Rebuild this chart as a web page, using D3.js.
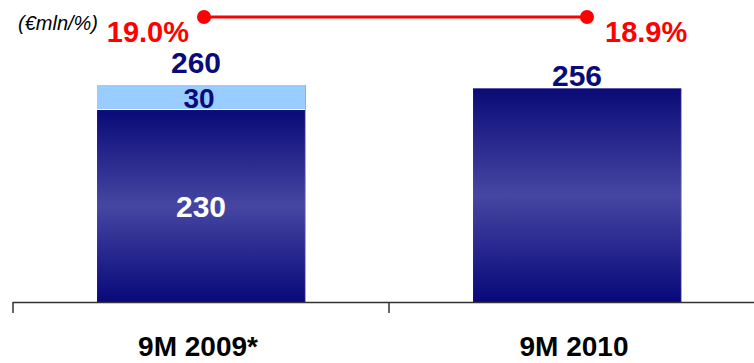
<!DOCTYPE html>
<html lang="en">
<head>
    <meta charset="UTF-8">
    <title>9M EBITDA margin</title>
    <style>
        body { margin: 0; background: #fff; }
        svg { display: block; }
        text { font-family: "Liberation Sans", Arial, sans-serif; font-weight: bold; }
        text.unit { font-weight: normal; font-style: italic; }
    </style>
    <script src="https://d3js.org/d3.v7.min.js"></script>
</head>
<body>
    <svg width="754" height="363"></svg>
    <script>
        // data
        const categories = ["9M 2009*", "9M 2010"];
        const baseValues = [230, 256];
        const extraValues = [30, 0];
        const totals = [260, 256];
        const margins = [19.0, 18.9];
        const marginLabels = ["19.0%", "18.9%"];

        const svg = d3.select("svg");
        const baseline = 302;

        const x = d3.scaleBand()
            .domain(categories)
            .range([13, 765])
            .padding(0);

        const barW = x.bandwidth() * 0.553;
        const barX = d => x(d) + (x.bandwidth() - barW) / 2;

        const y = d3.scaleLinear()
            .domain([0, 260])
            .range([baseline, 85]);

        // secondary axis for margin line, squeezed into the top strip
        const pctY = d3.scaleLinear()
            .domain([0, 100])
            .range([19.6, 6]);

        const defs = svg.append("defs");
        const grad = defs.append("linearGradient")
            .attr("id", "barGrad")
            .attr("x1", 0).attr("y1", 0).attr("x2", 0).attr("y2", 1);
        grad.append("stop").attr("offset", "0%").attr("stop-color", "#0a0a78");
        grad.append("stop").attr("offset", "50%").attr("stop-color", "#4646a2");
        grad.append("stop").attr("offset", "100%").attr("stop-color", "#08087a");

        const rows = categories.map((c, i) => ({
            cat: c, base: baseValues[i], extra: extraValues[i], total: totals[i],
            margin: margins[i], marginLabel: marginLabels[i]
        }));

        // base bars
        svg.append("g").selectAll("rect")
            .data(rows)
            .enter().append("rect")
            .attr("x", d => barX(d.cat))
            .attr("y", d => y(d.base))
            .attr("width", barW)
            .attr("height", d => baseline - y(d.base))
            .attr("fill", "url(#barGrad)");

        // light edge on the right of each bar
        svg.append("g").selectAll("line")
            .data(rows)
            .enter().append("line")
            .attr("x1", d => barX(d.cat) + barW + 0.5)
            .attr("x2", d => barX(d.cat) + barW + 0.5)
            .attr("y1", d => y(d.base + d.extra))
            .attr("y2", baseline)
            .attr("stroke", "#a0a0e0")
            .attr("stroke-width", 1);

        // extra (light) segment
        const extraRows = rows.filter(d => d.extra > 0);
        svg.append("g").selectAll("rect")
            .data(extraRows)
            .enter().append("rect")
            .attr("x", d => barX(d.cat))
            .attr("y", d => y(d.base + d.extra))
            .attr("width", barW)
            .attr("height", d => y(d.base) - y(d.base + d.extra) - 1)
            .attr("fill", "#99ccff");

        svg.append("g").selectAll("text")
            .data(extraRows)
            .enter().append("text")
            .attr("x", d => barX(d.cat) + barW / 2 - 2)
            .attr("y", d => (y(d.base) + y(d.base + d.extra)) / 2 + 10)
            .attr("text-anchor", "middle")
            .attr("font-size", 28)
            .attr("fill", "#0a0a78")
            .text(d => d.extra);

        // value inside base bar (only where stacked)
        svg.append("g").selectAll("text")
            .data(extraRows)
            .enter().append("text")
            .attr("x", d => barX(d.cat) + barW / 2)
            .attr("y", d => (y(d.base) + baseline) / 2 + 11)
            .attr("text-anchor", "middle")
            .attr("font-size", 30)
            .attr("fill", "#fff")
            .text(d => d.base);

        // totals above bars
        svg.append("g").selectAll("text")
            .data(rows)
            .enter().append("text")
            .attr("x", d => barX(d.cat) + barW / 2 + (d.extra > 0 ? -5 : 0))
            .attr("y", d => y(d.total) - (d.extra > 0 ? 12 : 2))
            .attr("text-anchor", "middle")
            .attr("font-size", 30)
            .attr("fill", "#0a0a78")
            .text(d => d.total);

        // axis
        const axis = svg.append("g").attr("stroke", "#333").attr("stroke-width", 1.5);
        axis.append("line")
            .attr("x1", x.range()[0]).attr("x2", 754)
            .attr("y1", baseline + 0.5).attr("y2", baseline + 0.5);
        axis.selectAll("line.tick")
            .data(categories)
            .enter().append("line")
            .attr("class", "tick")
            .attr("x1", d => x(d)).attr("x2", d => x(d))
            .attr("y1", baseline).attr("y2", baseline + 11);

        svg.append("g").selectAll("text")
            .data(categories)
            .enter().append("text")
            .attr("x", d => x(d) + x.bandwidth() / 2 - 3)
            .attr("y", 356)
            .attr("text-anchor", "middle")
            .attr("font-size", 28)
            .attr("fill", "#000")
            .text(d => d);

        // margin line
        const lineX = (d, i) => barX(d.cat) + barW / 2 + (i === 0 ? 3 : 10);
        svg.append("path")
            .datum(rows)
            .attr("fill", "none")
            .attr("stroke", "#ff0000")
            .attr("stroke-width", 3)
            .attr("d", d3.line().x(lineX).y(d => pctY(d.margin)));

        svg.append("g").selectAll("circle")
            .data(rows)
            .enter().append("circle")
            .attr("cx", lineX)
            .attr("cy", d => pctY(d.margin))
            .attr("r", 7)
            .attr("fill", "#ff0000");

        svg.append("g").selectAll("text")
            .data(rows)
            .enter().append("text")
            .attr("x", (d, i) => lineX(d, i) + (i === 0 ? -15 : 18))
            .attr("y", 42)
            .attr("text-anchor", (d, i) => i === 0 ? "end" : "start")
            .attr("font-size", 29)
            .attr("fill", "#ff0000")
            .text(d => d.marginLabel);

        svg.append("text")
            .attr("class", "unit")
            .attr("x", 18)
            .attr("y", 30)
            .attr("font-size", 20)
            .attr("fill", "#000")
            .text("(€mln/%)");
    </script>
</body>
</html>
